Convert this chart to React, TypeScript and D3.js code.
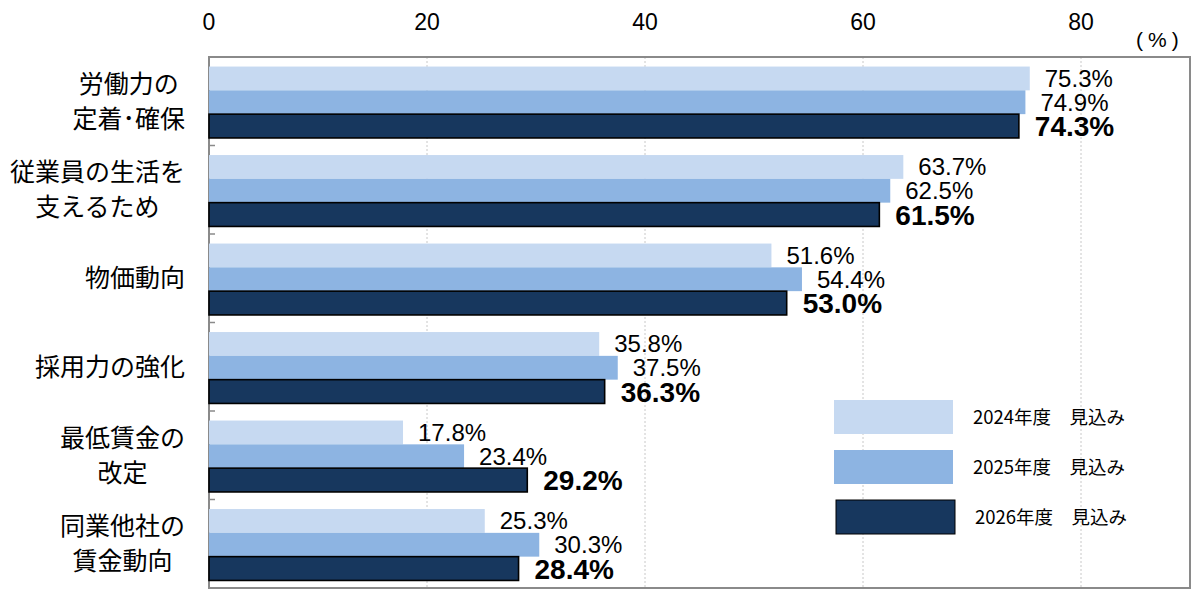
import * as d3 from "d3";

const CATEGORIES = [
  ["労働力の", "定着･確保"],
  ["従業員の生活を", "支えるため"],
  ["物価動向"],
  ["採用力の強化"],
  ["最低賃金の", "改定"],
  ["同業他社の", "賃金動向"],
];
const SERIES = ["2024年度\u3000見込み", "2025年度\u3000見込み", "2026年度\u3000見込み"];
const V2024 = [75.3, 63.7, 51.6, 35.8, 17.8, 25.3];
const V2025 = [74.9, 62.5, 54.4, 37.5, 23.4, 30.3];
const V2026 = [74.3, 61.5, 53.0, 36.3, 29.2, 28.4];
const TICKS = [0, 20, 40, 60, 80];
const COLORS = ["#C6D9F1", "#8DB4E2", "#17375E"];

const W = 1200;
const H = 603;
const M = { left: 209, right: 1190, top: 57, bottom: 588 };

// rough width of a label line in em (half-width chars count as half)
const lineEm = (s: string) =>
  Array.from(s).reduce((a, c) => a + (c.charCodeAt(0) >= 0xff61 && c.charCodeAt(0) <= 0xff9f ? 0.5 : 1), 0);

export default function App() {
  const values = [V2024, V2025, V2026];
  const x = d3.scaleLinear().domain([0, 90]).range([M.left, M.right]);
  const y = d3.scaleBand<number>().domain(d3.range(CATEGORIES.length)).range([M.top, M.bottom]);
  const bh = 23.8;
  const off = (y.bandwidth() - 3 * bh) / 2 + 1;
  const font = "'Liberation Sans', Arial, sans-serif";
  const jp = "'Noto Sans CJK JP', sans-serif";

  return (
    <svg width={W} height={H} style={{ position: "absolute", left: 0, top: 0 }}>
      <rect width={W} height={H} fill="#fff" />
      {/* grid */}
      {TICKS.filter((t) => t > 0).map((t) => (
        <line key={t} x1={x(t)} x2={x(t)} y1={M.top} y2={M.bottom} stroke="#c8c8c8" strokeDasharray="2,2" />
      ))}
      {/* frame */}
      <rect x={M.left} y={M.top} width={M.right - M.left} height={M.bottom - M.top} fill="none" stroke="#8a8a8a" strokeWidth={2} />
      {/* x tick labels */}
      {TICKS.map((t) => (
        <text key={t} x={x(t)} y={30} textAnchor="middle" fontFamily={font} fontSize={23} fill="#000">
          {t}
        </text>
      ))}
      <text x={1136} y={47} fontFamily={font} fontSize={21} letterSpacing={5} fill="#000">(%)</text>
      {/* category ticks */}
      {d3.range(CATEGORIES.length + 1).map((i) => {
        const yy = i < CATEGORIES.length ? y(i)! : M.bottom;
        return <line key={i} x1={M.left} x2={M.left + 6} y1={yy} y2={yy} stroke="#8a8a8a" strokeWidth={1.5} />;
      })}
      {/* bars */}
      {CATEGORIES.map((cat, i) => (
        <g key={i}>
          {values.map((vals, s) => {
            const y0 = y(i)! + off + s * bh;
            const v = vals[i];
            return (
              <g key={s}>
                <rect
                  x={x(0)}
                  y={y0}
                  width={x(v) - x(0)}
                  height={bh}
                  fill={COLORS[s]}
                  stroke={s === 2 ? "#000" : "none"}
                  strokeWidth={s === 2 ? 1.6 : 0}
                />
                <text
                  x={x(v) + (s === 2 ? 16 : 15)}
                  y={y0 + bh / 2 + (s === 2 ? 10 : 8.5)}
                  fontFamily={font}
                  fontSize={s === 2 ? 28 : 24}
                  fontWeight={s === 2 ? "bold" : "normal"}
                  fill="#000"
                >
                  {v.toFixed(1)}%
                </text>
              </g>
            );
          })}
          {(() => {
            const maxLen = d3.max(cat, lineEm)!;
            const cx = 185 - (maxLen * 25) / 2;
            const cy = y(i)! + y.bandwidth() / 2;
            return cat.map((line, k) => (
              <text
                key={k}
                x={cx}
                y={cy + (k - (cat.length - 1) / 2) * 35 + 9}
                textAnchor="middle"
                fontFamily={jp}
                fontSize={25}
                fill="#000"
              >
                {line}
              </text>
            ));
          })()}
        </g>
      ))}
      {/* legend */}
      {SERIES.map((s, k) => (
        <g key={s}>
          <rect x={834 + (k === 2 ? 2 : 0)} y={400 + k * 50} width={119} height={34} fill={COLORS[k]} stroke={k === 2 ? "#000" : "none"} strokeWidth={k === 2 ? 1 : 0} />
          <text x={973 + (k === 2 ? 2 : 0)} y={417 + k * 50 + 6.5} fontFamily={jp} fontSize={18.5} fill="#000">
            {s}
          </text>
        </g>
      ))}
    </svg>
  );
}
